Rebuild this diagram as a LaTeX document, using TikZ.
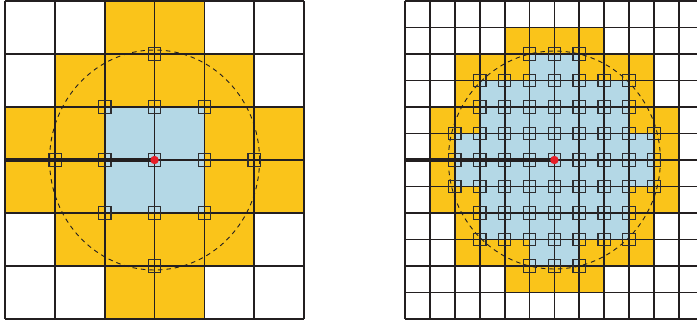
\documentclass[tikz,border=0pt]{standalone}
\begin{document}
\begin{tikzpicture}[x=1pt,y=-1pt,
  gridline/.style={draw=gridc,line width=1.8pt},
  sq/.style={draw=sqc,line width=1.2pt,minimum size=12.5pt,inner sep=0pt,outer sep=0pt,fill=none},
  ring/.style={draw=gridc,line width=0.9pt,dash pattern=on 4.5pt off 4pt},
  thickline/.style={draw=gridc,line width=3.6pt},
  reddot/.style={fill=dotc,circle,minimum size=8.4pt,inner sep=0pt}]
\definecolor{cellY}{RGB}{250,196,26}
\definecolor{cellB}{RGB}{180,216,230}
\definecolor{gridc}{RGB}{35,31,32}
\definecolor{sqc}{RGB}{45,45,48}
\definecolor{dotc}{RGB}{230,30,40}
\useasboundingbox (0,0) rectangle (697,322);
% ---------------- left grid ----------------
\begin{scope}[shift={(5,1)},x=49.85pt,y=-53pt]
  \fill[cellY] (2,0) rectangle (4,1);
  \fill[cellY] (1,1) rectangle (5,2);
  \fill[cellY] (0,2) rectangle (6,4);
  \fill[cellY] (1,4) rectangle (5,5);
  \fill[cellY] (2,5) rectangle (4,6);
  \fill[cellB] (2,2) rectangle (4,4);
  \foreach \k in {0,...,6} {
    \draw[gridline] (\k,0) -- (\k,6);
    \draw[gridline] (0,\k) -- (6,\k);
  }
  \coordinate (Lc) at (3,3);
  \coordinate (Ledge) at (0,3);
  \draw[ring] (Lc) ellipse [x radius=105pt, y radius=110pt];
  \foreach \i in {0,...,6} \foreach \j in {0,...,6} {
    \pgfmathtruncatemacro\d{(\i-3)*(\i-3)+(\j-3)*(\j-3)}
    \ifnum\d<5 \node[sq] (L-\i-\j) at (\i,\j) {}; \fi
  }
  \draw[thickline] (Ledge) -- (Lc);
  \node[reddot] (Ldot) at (Lc) {};
\end{scope}
% ---------------- right grid ----------------
\begin{scope}
\clip (0,0) rectangle (697,322);
\begin{scope}[shift={(405,1)},x=24.9pt,y=-26.5pt]
  \fill[cellY] (4,1) rectangle (8,2);
  \fill[cellY] (2,2) rectangle (10,4);
  \fill[cellY] (1,4) rectangle (11,8);
  \fill[cellY] (2,8) rectangle (10,10);
  \fill[cellY] (4,10) rectangle (8,11);
  \fill[cellB] (5,2) rectangle (7,3);
  \fill[cellB] (3,3) rectangle (9,5);
  \fill[cellB] (2,5) rectangle (10,7);
  \fill[cellB] (3,7) rectangle (9,9);
  \fill[cellB] (5,9) rectangle (7,10);
  \foreach \k in {0,...,12} {
    \draw[gridline] (\k,0) -- (\k,12);
    \draw[gridline] (0,\k) -- (12,\k);
  }
  \coordinate (Rc) at (6,6);
  \coordinate (Redge) at (0,6);
  \draw[ring] (Rc) ellipse [x radius=106pt, y radius=109pt];
  \foreach \i in {0,...,12} \foreach \j in {0,...,12} {
    \pgfmathtruncatemacro\d{(\i-6)*(\i-6)+(\j-6)*(\j-6)}
    \ifnum\d<19 \node[sq] (R-\i-\j) at (\i,\j) {}; \fi
  }
  \draw[thickline] (Redge) -- (Rc);
  \node[reddot] (Rdot) at (Rc) {};
\end{scope}
\end{scope}
\end{tikzpicture}
\end{document}
